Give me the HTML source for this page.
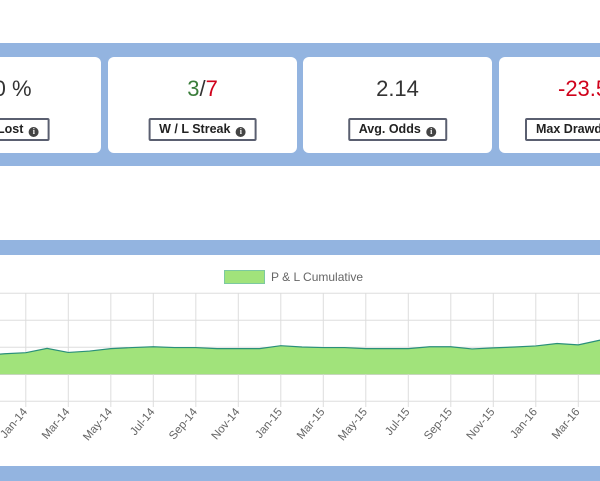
<!DOCTYPE html>
<html><head><meta charset="utf-8"><style>
*{box-sizing:border-box;margin:0;padding:0}
html,body{width:600px;height:481px;overflow:hidden}
body{background:#fff;font-family:"Liberation Sans",sans-serif;position:relative}
.band{position:absolute;left:0;width:600px;background:#93b4e0}
.card{position:absolute;top:57px;width:189px;height:96px;background:#fff;border-radius:6px;text-align:center;overflow:hidden}
.val{position:absolute;top:19px;left:0;right:0;font-size:22px;color:#333;white-space:nowrap}
.lbl{position:absolute;top:61px;left:50%;transform:translateX(-50%);border:2px solid #5a5f70;border-radius:2px;height:23px;line-height:19px;padding:0 9px;font-size:12.5px;font-weight:bold;color:#222;white-space:nowrap;background:#fff}
.ic{display:inline-block;width:10px;height:10px;border-radius:50%;background:#444;color:#fff;font-size:8px;line-height:10px;text-align:center;vertical-align:-1px;margin-left:2px;font-family:"Liberation Serif",serif}
.clip{position:absolute;left:0;top:0;width:600px;height:481px;overflow:hidden}
</style></head><body>
<div class="clip">
<div class="band" style="top:43px;height:123px"></div>
<div class="card" style="left:-88px"><div class="val">50 %</div><div class="lbl">Pct Lost <span class="ic">i</span></div></div>
<div class="card" style="left:108px"><div class="val"><span style="color:#3a7d3a">3</span>/<span style="color:#d0021b">7</span></div><div class="lbl">W / L Streak <span class="ic">i</span></div></div>
<div class="card" style="left:303px"><div class="val">2.14</div><div class="lbl">Avg. Odds <span class="ic">i</span></div></div>
<div class="card" style="left:499px;width:101px;border-radius:6px 0 0 6px"><div class="val" style="left:59px;right:auto;color:#d0021b">-23.5</div><div class="lbl" style="left:26px;transform:none">Max Drawdown <span class="ic">i</span></div></div>
<div class="band" style="top:240px;height:15px"></div>
<div class="band" style="top:466px;height:15px"></div>
<svg id="chart" width="600" height="211" style="position:absolute;left:0;top:255px" xmlns="http://www.w3.org/2000/svg"></svg>
</div>
<script>
const months=["Nov-13","Dec-13","Jan-14","Feb-14","Mar-14","Apr-14","May-14","Jun-14","Jul-14","Aug-14","Sep-14","Oct-14","Nov-14","Dec-14","Jan-15","Feb-15","Mar-15","Apr-15","May-15","Jun-15","Jul-15","Aug-15","Sep-15","Oct-15","Nov-15","Dec-15","Jan-16","Feb-16","Mar-16","Apr-16","May-16"];
const plValues=[7.0,7.6,8.0,9.6,8.1,8.6,9.5,9.9,10.2,9.9,9.9,9.5,9.5,9.5,10.6,10.1,9.9,9.9,9.5,9.5,9.5,10.2,10.2,9.4,9.8,10.1,10.5,11.4,10.9,12.6,13.5];
const yTicks=[-10,0,10,20,30];
const svg=document.getElementById('chart');
const NS='http://www.w3.org/2000/svg';
const x=i=>25.8+(i-2)*21.25;
const y=v=>119.3-v*2.7;
function mk(t,a){const e=document.createElementNS(NS,t);for(const k in a)e.setAttribute(k,a[k]);svg.appendChild(e);return e;}
yTicks.forEach(t=>{const g=mk('line',{x1:0,x2:600,y1:y(t),y2:y(t),stroke:t===0?'#bbb':'#ddd','stroke-width':1});

});
months.forEach((m,i)=>{if(i%2===0){const xx=x(i);if(xx<0||xx>600)return;
const g=mk('line',{x1:xx,x2:xx,y1:38,y2:152,stroke:'#ddd','stroke-width':1});


const t=mk('text',{x:xx+2,y:157,'text-anchor':'end','font-size':11.5,fill:'#666','font-family':'Liberation Sans, sans-serif',transform:`rotate(-50 ${xx+2} 157)`});
t.textContent=m;

}});
let d=`M${x(0)},${y(0)}`;plValues.forEach((v,i)=>d+=` L${x(i)},${y(v)}`);d+=` L${x(plValues.length-1)},${y(0)} Z`;
const area=mk('path',{d:d,fill:'#a1e37b',stroke:'none'});


let l='';plValues.forEach((v,i)=>l+=(i?' L':'M')+x(i)+','+y(v));
const line=mk('path',{d:l,fill:'none',stroke:'#2a8f7a','stroke-width':1.2});


const lb=mk('rect',{x:224.5,y:15.5,width:40,height:13,fill:'#a1e37b',stroke:'#7cc9a0','stroke-width':1});


const lt=mk('text',{x:271,y:26,'font-size':12,fill:'#666','font-family':'Liberation Sans, sans-serif'});
lt.textContent='P & L Cumulative';


</script>
</body></html>
